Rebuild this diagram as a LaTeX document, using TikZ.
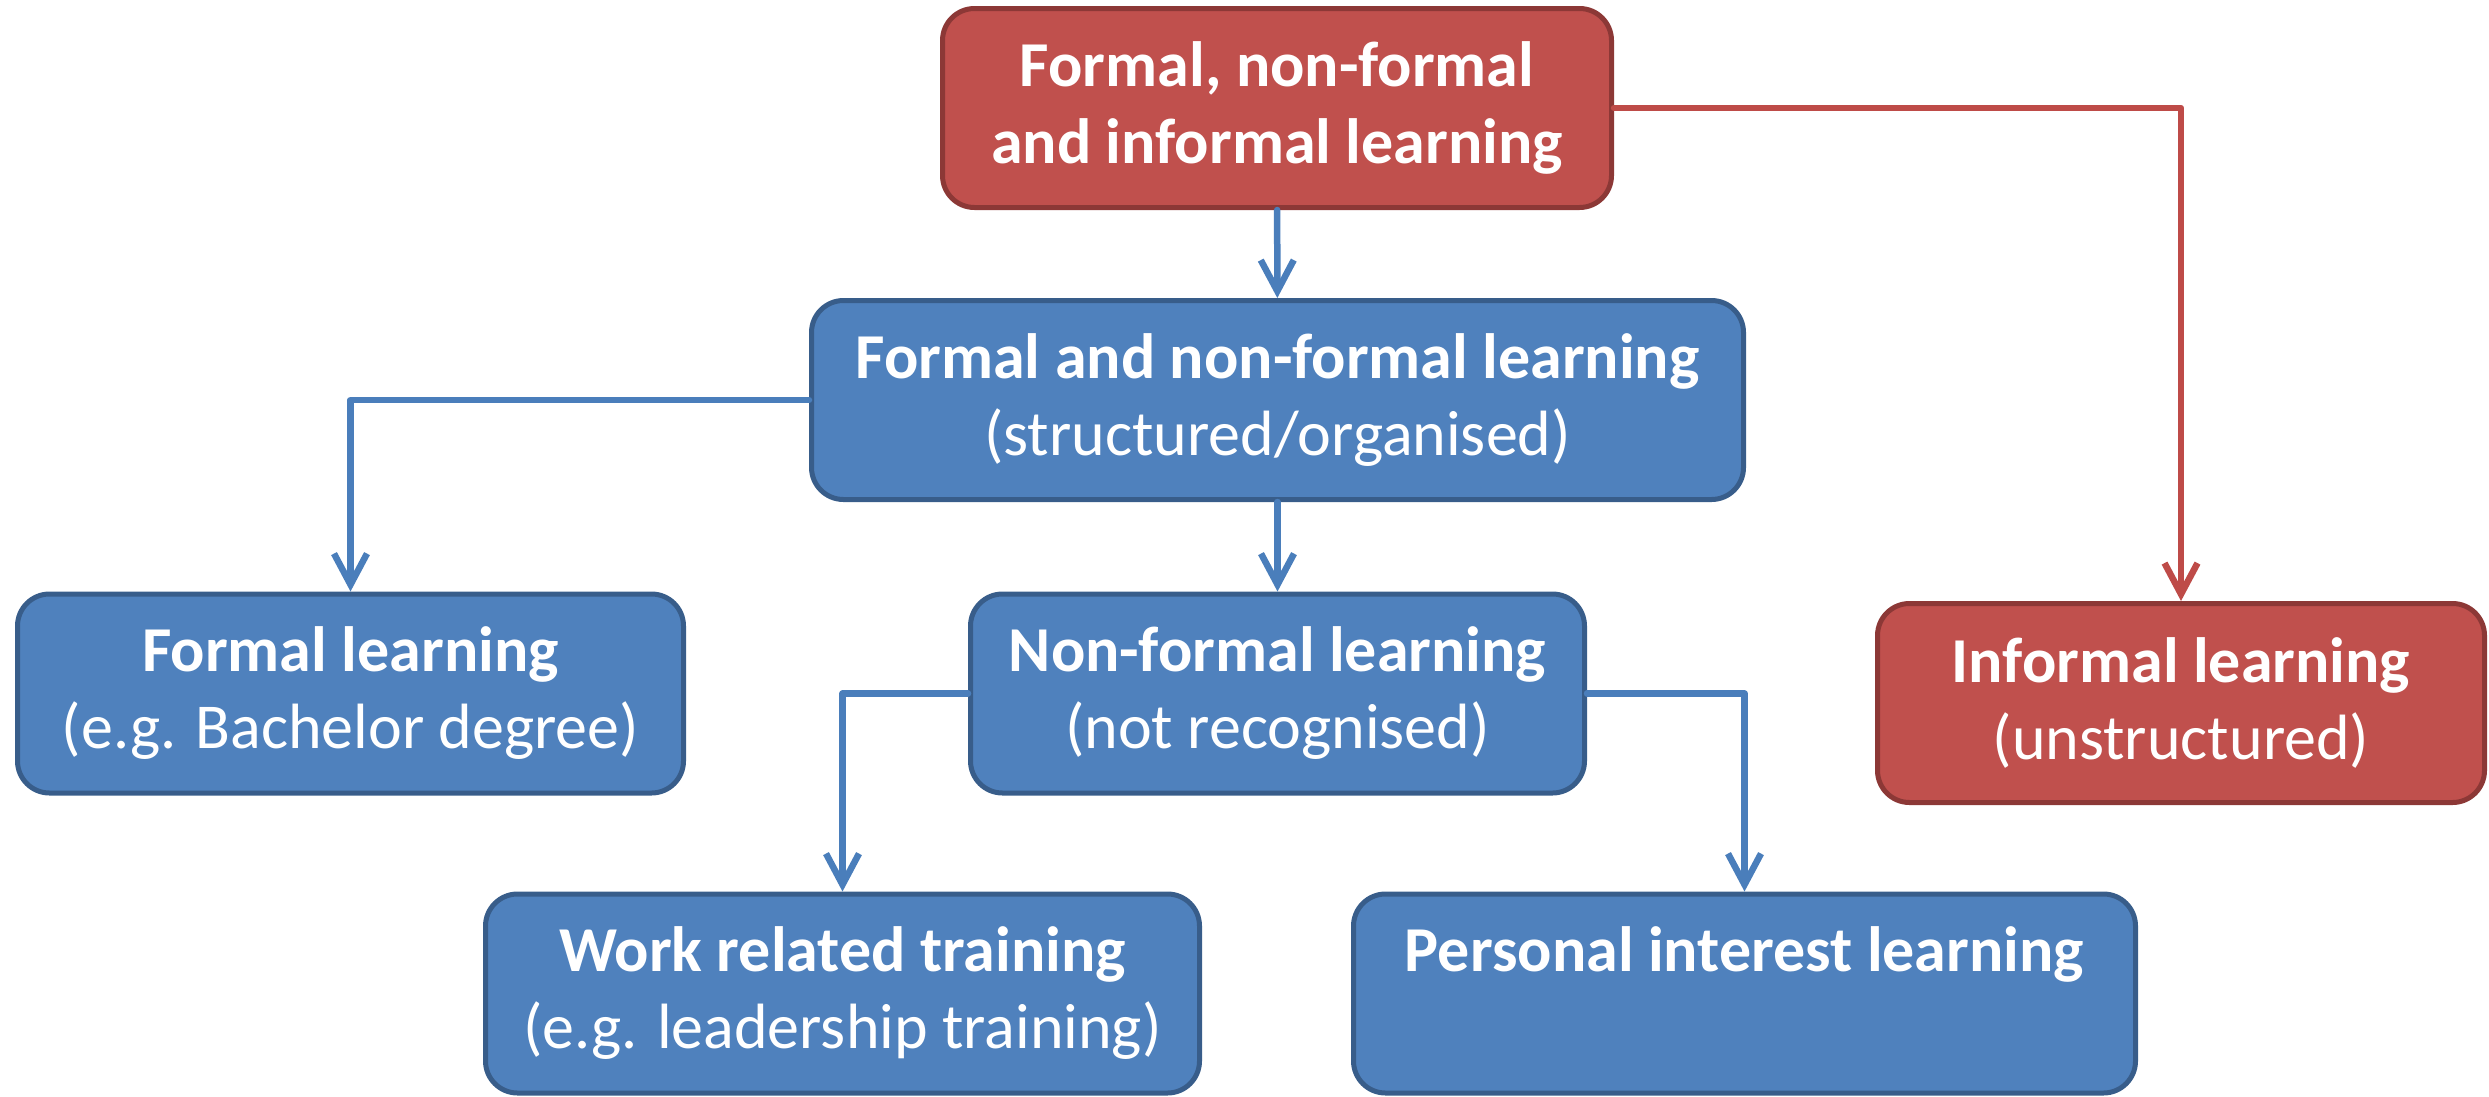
\documentclass[tikz,border=0pt]{standalone}
\usepackage{fontspec}
\setmainfont{Carlito}
\usetikzlibrary{arrows.meta}
\definecolor{bluefill}{HTML}{4F81BD}
\definecolor{blueline}{HTML}{385D8A}
\definecolor{bluearrow}{HTML}{4A7EBB}
\definecolor{redfill}{HTML}{C0504D}
\definecolor{redline}{HTML}{8C3836}
\definecolor{redarrow}{HTML}{BE4B48}
\tikzset{
  box/.style={rectangle, rounded corners=32pt, line width=5pt, text=white,
    align=center, inner sep=0pt, minimum height=199pt,
    font=\fontsize{64}{77}\selectfont},
  bluebox/.style={box, fill=bluefill, draw=blueline},
  redbox/.style={box, fill=redfill, draw=redline},
  conn/.style={line width=6.5pt, line cap=round, line join=round,
    -{Straight Barb[length=31pt,width=33pt,line width=6.5pt]}},
  blueconn/.style={conn, draw=bluearrow},
  redconn/.style={conn, draw=redarrow},
}
\begin{document}
\begin{tikzpicture}[x=1pt,y=-1pt]
\useasboundingbox (0,0) rectangle (2489,1096);
\node[redbox, minimum width=669pt] (top) at (1277,108)
  {\textbf{Formal, non-formal}\\\textbf{and informal learning}};
\node[bluebox, minimum width=932pt] (mid) at (1277.5,400)
  {\textbf{Formal and non-formal learning}\\(structured/organised)};
\node[bluebox, minimum width=666pt] (formal) at (350.5,693.5)
  {\textbf{Formal learning}\\(e.g. Bachelor degree)};
\node[bluebox, minimum width=614pt] (nonformal) at (1277.5,693.5)
  {\textbf{Non-formal learning}\\(not recognised)};
\node[redbox, minimum width=607pt] (informal) at (2181,703)
  {\textbf{Informal learning}\\(unstructured)};
\node[bluebox, minimum width=714pt] (work) at (842.5,993.5)
  {\textbf{Work related training}\\(e.g. leadership training)};
\node[bluebox, minimum width=782pt] (personal) at (1744.5,993.5)
  {\textbf{Personal interest learning}\\\phantom{(e.g. leadership)}};
\draw[blueconn] (top) -- (mid);
\draw[blueconn] (mid.west) -| (formal.north);
\draw[blueconn] (mid) -- (nonformal);
\draw[blueconn] (nonformal.west) -| (work.north);
\draw[blueconn] (nonformal.east) -| (personal.north);
\draw[redconn] (top.east) -| (informal.north);
\end{tikzpicture}
\end{document}
